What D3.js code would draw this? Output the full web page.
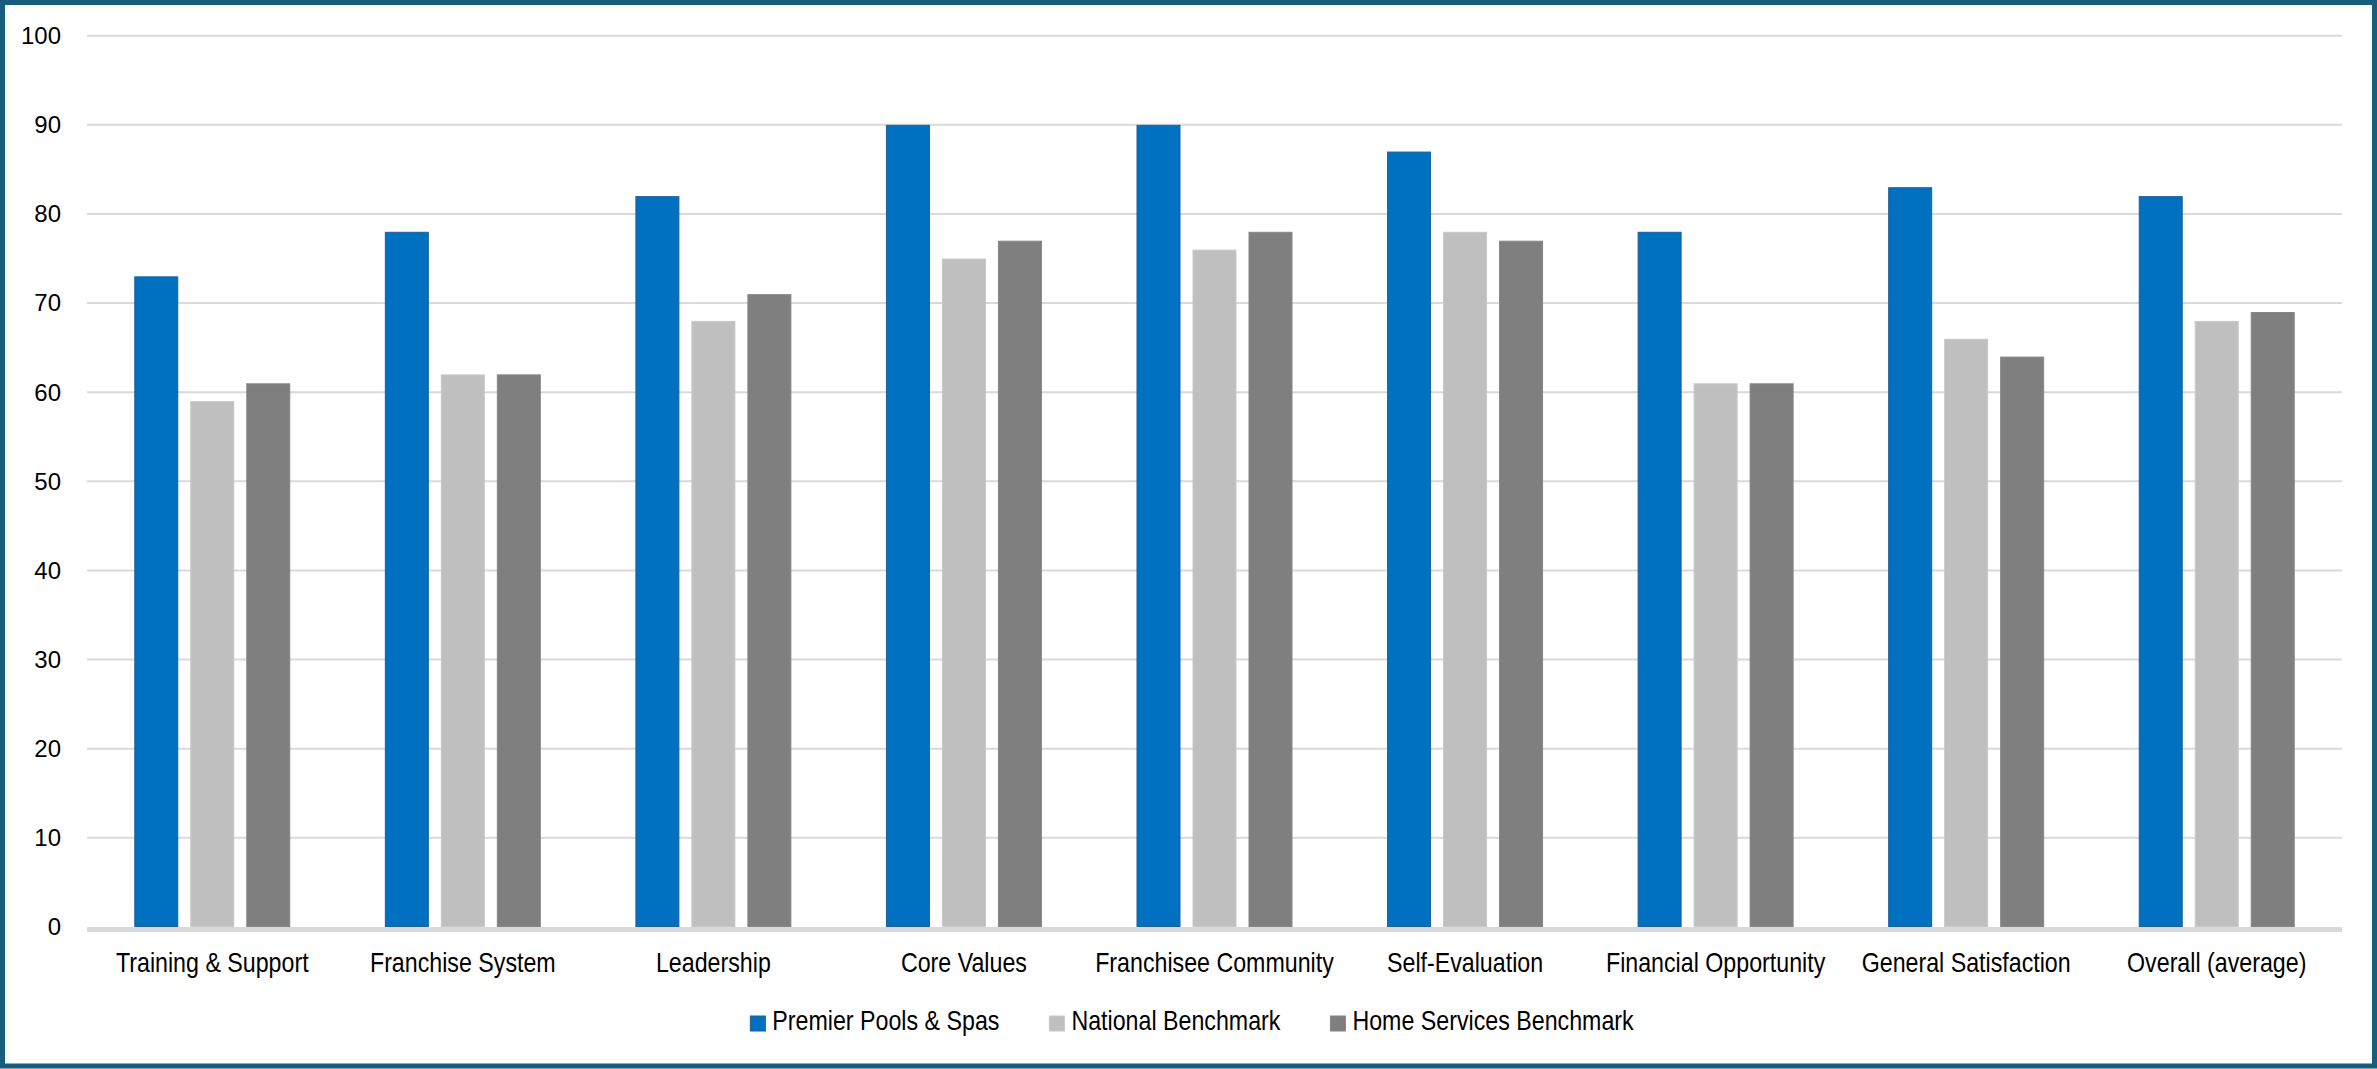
<!DOCTYPE html>
<html>
<head>
<meta charset="utf-8">
<script src="https://cdn.jsdelivr.net/npm/d3@7"></script>
<style>
  html, body { margin: 0; padding: 0; background: #fff; }
  svg { display: block; }
</style>
</head>
<body>
<div id="chart"></div>
<script>
// chart values
const categories = ["Training & Support", "Franchise System", "Leadership", "Core Values",
    "Franchisee Community", "Self-Evaluation", "Financial Opportunity", "General Satisfaction", "Overall (average)"];
const seriesNames = ["Premier Pools & Spas", "National Benchmark", "Home Services Benchmark"];
const premierValues = [73, 78, 82, 90, 90, 87, 78, 83, 82];
const nationalValues = [59, 62, 68, 75, 76, 78, 61, 66, 68];
const homeServicesValues = [61, 62, 71, 77, 78, 77, 61, 64, 69];
const yTicks = [0, 10, 20, 30, 40, 50, 60, 70, 80, 90, 100];

const width = 2377, height = 1069;
const margin = {top: 35.7, right: 35, bottom: 142, left: 87};
const labelFont = "'Liberation Sans', Arial, sans-serif";
const squeeze = 0.86; //narrow look for the category and legend text

const seriesValues = [premierValues, nationalValues, homeServicesValues];
const colors = ["#0070c0", "#bfbfbf", "#7f7f7f"];
const strokes = ["#1f5f9c", "#c8c8c8", "#868686"];

//build table for grouped bars
const table = categories.map((c, i) => ({
    category: c,
    values: seriesNames.map((s, j) => ({series: s, value: seriesValues[j][i]}))
}));

const svg = d3.select("#chart")
    .append("svg")
    .attr("width", width)
    .attr("height", height);

svg.append("rect")
    .attr("width", width).attr("height", height)
    .attr("fill", "#fff");

const x0 = d3.scaleBand()
    .domain(categories)
    .range([margin.left, width - margin.right])
    .padding(0);

const groupW = 156;
const x1 = d3.scaleBand()
    .domain(seriesNames)
    .range([(x0.bandwidth() - groupW) / 2, (x0.bandwidth() + groupW) / 2])
    .paddingInner(12 / 56)
    .paddingOuter(0);

const yScale = d3.scaleLinear()
    .domain([0, 100])
    .range([height - margin.bottom, margin.top]);

const color = d3.scaleOrdinal().domain(seriesNames).range(colors);
const strokeColor = d3.scaleOrdinal().domain(seriesNames).range(strokes);

//gridlines
svg.append("g")
    .selectAll("line")
    .data(yTicks.filter(t => t > 0))
    .enter()
    .append("line")
    .attr("x1", margin.left)
    .attr("x2", width - margin.right)
    .attr("y1", d => yScale(d))
    .attr("y2", d => yScale(d))
    .attr("stroke", "#d9d9d9")
    .attr("stroke-width", 2);

//y labels
svg.append("g")
    .selectAll("text")
    .data(yTicks)
    .enter()
    .append("text")
    .attr("x", 61)
    .attr("y", d => yScale(d))
    .attr("dy", "0.35em")
    .attr("text-anchor", "end")
    .attr("font-family", labelFont)
    .attr("font-size", "24px")
    .attr("fill", "#000")
    .text(d => d);

//bars
svg.append("g")
    .selectAll("g")
    .data(table)
    .enter()
    .append("g")
    .attr("transform", d => `translate(${x0(d.category)},0)`)
    .selectAll("rect")
    .data(d => d.values)
    .enter()
    .append("rect")
    .attr("x", d => x1(d.series) + 0.5)
    .attr("y", d => yScale(d.value) + 0.5)
    .attr("width", x1.bandwidth() - 1)
    .attr("height", d => yScale(0) - yScale(d.value) - 1)
    .attr("fill", d => color(d.series))
    .attr("stroke", d => strokeColor(d.series))
    .attr("stroke-width", 1);

//x axis line (thick light gray)
svg.append("line")
    .attr("x1", margin.left)
    .attr("x2", width - margin.right)
    .attr("y1", yScale(0) + 2.5)
    .attr("y2", yScale(0) + 2.5)
    .attr("stroke", "#d9d9d9")
    .attr("stroke-width", 5);

//category labels
svg.append("g")
    .selectAll("text")
    .data(categories)
    .enter()
    .append("text")
    .attr("transform", d => `translate(${x0(d) + x0.bandwidth() / 2},971.5) scale(${squeeze},1)`)
    .attr("text-anchor", "middle")
    .attr("font-family", labelFont)
    .attr("font-size", "27px")
    .attr("fill", "#000")
    .text(d => d);

//legend
const legend = svg.append("g");
const items = legend.selectAll("g")
    .data(seriesNames)
    .enter()
    .append("g");

items.append("rect")
    .attr("x", 0)
    .attr("y", 1016)
    .attr("width", 15)
    .attr("height", 15)
    .attr("fill", d => color(d))
    .attr("stroke", d => strokeColor(d))
    .attr("stroke-width", 1);

items.append("text")
    .attr("transform", `translate(22,1030) scale(${squeeze},1)`)
    .attr("font-family", labelFont)
    .attr("font-size", "27px")
    .attr("fill", "#000")
    .text(d => d);

//lay legend items out side by side, centred
let offset = 0;
const offsets = [];
items.each(function() {
    offsets.push(offset);
    const w = 22 + squeeze * d3.select(this).select("text").node().getComputedTextLength();
    offset += w + 50;
});
const total = offset - 50;
const startX = 1192 - total / 2;
items.attr("transform", (d, i) => `translate(${startX + offsets[i]},0)`);

//outer border
svg.append("rect")
    .attr("x", 2.5)
    .attr("y", 2.5)
    .attr("width", width - 5)
    .attr("height", height - 5.5)
    .attr("fill", "none")
    .attr("stroke", "#175d7e")
    .attr("stroke-width", 5);
</script>
</body>
</html>
